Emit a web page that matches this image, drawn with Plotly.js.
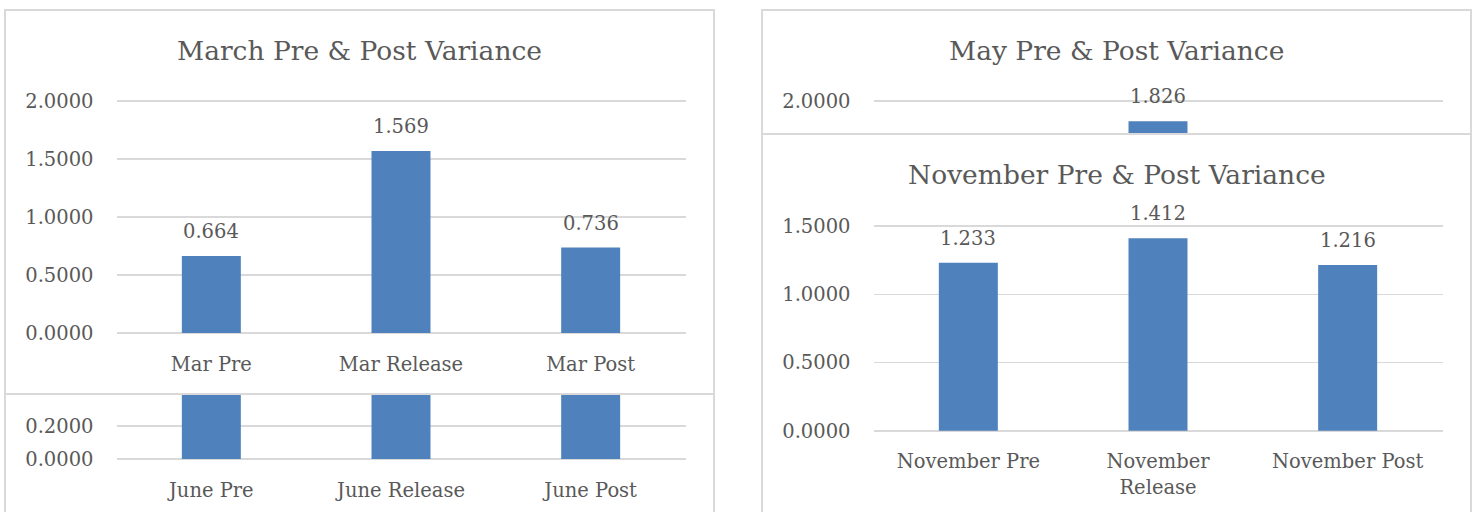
<!DOCTYPE html>
<html><head><meta charset="utf-8">
<script src="https://cdn.plot.ly/plotly-3.0.1.min.js"></script>
<style>html,body{margin:0;padding:0;background:#fff;overflow:hidden}</style>
</head><body><div id="chart" style="width:1476px;height:512px"></div>
<script>
// ---- data ----
const marchCategories = ["Mar Pre", "Mar Release", "Mar Post"];
const marchValues = [0.664, 1.569, 0.736];

// June chart is mostly covered in the reference: only the part below 0.4 shows.
const juneCategories = ["June Pre", "June Release", "June Post"];
const juneValues = [0.95, 1.25, 0.90]; // estimated (tops hidden)

// May chart is mostly covered: only the release bar top shows.
const mayCategories = ["May Pre", "May Release", "May Post"];
const mayValues = [1.20, 1.826, 1.10]; // pre/post estimated (hidden)

const novCategories = ["November Pre", "November Release", "November Post"];
const novTickText = ["November Pre", "November<br>Release", "November Post"];
const novValues = [1.233, 1.412, 1.216];

const titles = ["March Pre & Post Variance", "May Pre & Post Variance", "November Pre & Post Variance"];

// ---- layout helpers ----
const W = 1476, H = 512;
const px = v => v / W;
const py = v => 1 - v / H;

const FONT = "DejaVu Serif, Liberation Serif, serif";
const TXT = "#595959";
const GRID = "#d9d9d9";
const BAR = "#4f81bd";

function bar(x, y, xa, ya) {
  return {type: "bar", x: x, y: y, xaxis: xa, yaxis: ya,
    marker: {color: BAR, line: {width: 0}}, hoverinfo: "skip", showlegend: false};
}

const data = [
  bar(marchCategories, marchValues, "x", "y"),
  bar(juneCategories, juneValues, "x2", "y2"),
  bar(mayCategories, mayValues, "x3", "y3"),
  bar(novCategories, novValues, "x4", "y4")
];

function xax(domain, extra) {
  return Object.assign({domain: domain, type: "category", showgrid: false, zeroline: false,
    showline: false, ticks: "", fixedrange: true, ticklabelstandoff: 14,
    tickfont: {family: FONT, size: 19.5, color: TXT}}, extra || {});
}
function yax(domain, range, anchor, extra) {
  return Object.assign({domain: domain, range: range, anchor: anchor, dtick: 0.5, tick0: 0,
    tickformat: ".4f", showgrid: true, gridcolor: GRID, gridwidth: 1.8, zeroline: false,
    showline: false, ticks: "", fixedrange: true, ticklabelstandoff: 22,
    tickfont: {family: FONT, size: 19.5, color: TXT}}, extra || {});
}

const leftX = [px(116.5), px(685.5)];
const rightX = [px(873.5), px(1442.5)];
// pixels per unit of each chart's value axis
const kMar = 116, kJun = 165, kNov = 136.3;

const layout = {
  width: W, height: H,
  margin: {l: 0, r: 0, t: 0, b: 0, pad: 0},
  paper_bgcolor: "#ffffff", plot_bgcolor: "rgba(0,0,0,0)",
  bargap: 0.689, showlegend: false,
  xaxis: xax(leftX, {anchor: "y"}),
  yaxis: yax([py(336), py(98)], [-3 / kMar, 2 + 3 / kMar], "x"),
  xaxis2: xax(leftX, {anchor: "y2"}),
  yaxis2: yax([py(462), py(394)], [-3 / kJun, 65 / kJun], "x2", {dtick: 0.2}),
  xaxis3: xax(rightX, {anchor: "y3", showticklabels: false}),
  yaxis3: yax([py(134), py(98)], [2 - 33 / kMar, 2 + 3 / kMar], "x3"),
  xaxis4: xax(rightX, {anchor: "y4", tickmode: "array", tickvals: novCategories, ticktext: novTickText}),
  yaxis4: yax([py(433.7), py(223.3)], [-3 / kNov, 1.5 + 3 / kNov], "x4"),
  annotations: [],
  shapes: []
};

// value labels placed above each bar (hidden automatically when off-axis)
function labels(cats, vals, xa, ya) {
  cats.forEach((c, i) => layout.annotations.push({
    x: c, y: vals[i], xref: xa, yref: ya, text: vals[i].toFixed(3), showarrow: false,
    yanchor: "middle", yshift: 24.5, font: {family: FONT, size: 19.5, color: TXT}
  }));
}
labels(marchCategories, marchValues, "x", "y");
labels(mayCategories, mayValues, "x3", "y3");
labels(novCategories, novValues, "x4", "y4");

// chart titles
[[titles[0], 359.5, 50], [titles[1], 1116.5, 50], [titles[2], 1116.5, 174]].forEach(t => {
  layout.annotations.push({text: t[0], x: px(t[1]), y: py(t[2]), xref: "paper", yref: "paper",
    showarrow: false, xanchor: "center", yanchor: "middle",
    font: {family: FONT, size: 26.5, color: TXT}});
});

// chart frames
function frame(x0, y0, x1, y1) {
  layout.shapes.push({type: "rect", xref: "paper", yref: "paper", layer: "above",
    x0: px(x0), x1: px(x1), y0: py(y0), y1: py(y1),
    line: {color: GRID, width: 2}, fillcolor: "rgba(0,0,0,0)"});
}
frame(5, 394, 714, 540);   // June (behind)
frame(5, 10, 714, 394);    // March
frame(762, 10, 1471, 134); // May (behind)
frame(762, 134, 1471, 540);// November

Plotly.newPlot("chart", data, layout, {staticPlot: true, displayModeBar: false});
</script>
</body></html>
